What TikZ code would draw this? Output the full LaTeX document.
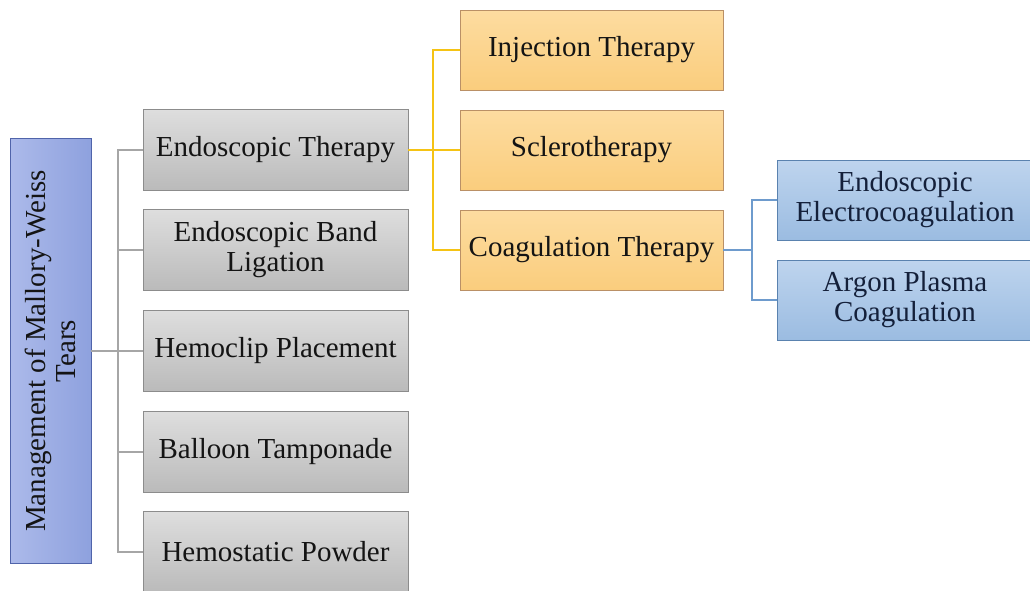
\documentclass[tikz,border=0pt]{standalone}
\usepackage{fontspec}
\setmainfont{Liberation Serif}
\begin{document}
\begin{tikzpicture}[x=1pt,y=-1pt,
  box/.style={draw, line width=0.9pt, inner sep=2pt, align=center,
    font=\fontsize{29}{30}\selectfont, text=black!92},
  graybox/.style={box, draw=black!45, top color=black!13, bottom color=black!27,
    minimum width=265pt, minimum height=81pt},
  orangebox/.style={box, draw=orange!55!black!60, top color={rgb,255:red,253;green,220;blue,160}, bottom color={rgb,255:red,250;green,205;blue,125},
    minimum width=263pt, minimum height=80pt},
  bluebox/.style={box, draw={rgb,255:red,90;green,130;blue,175}, top color={rgb,255:red,190;green,212;blue,238}, bottom color={rgb,255:red,155;green,188;blue,225},
    minimum width=256pt, minimum height=80pt, text={rgb,255:red,20;green,32;blue,58}},
  rootbox/.style={box, draw={rgb,255:red,80;green,100;blue,170}, left color={rgb,255:red,172;green,186;blue,234}, right color={rgb,255:red,142;green,161;blue,222},
    minimum width=425pt, minimum height=81pt, rotate=90},
  gline/.style={draw=black!35, line width=1.6pt},
  yline/.style={draw={rgb,255:red,245;green,195;blue,20}, line width=1.6pt},
  bline/.style={draw={rgb,255:red,110;green,155;blue,205}, line width=1.6pt}
]
\useasboundingbox (0,0) rectangle (1030,590);

\node[rootbox] (root) at (50.5,351) {Management of Mallory-Weiss\\Tears};

\node[graybox] (g1) at (275.5,150) {Endoscopic Therapy};
\node[graybox] (g2) at (275.5,250) {Endoscopic Band\\Ligation};
\node[graybox] (g3) at (275.5,351) {Hemoclip Placement};
\node[graybox] (g4) at (275.5,452) {Balloon Tamponade};
\node[graybox] (g5) at (275.5,552) {Hemostatic Powder};

\node[orangebox] (o1) at (591.5,50) {Injection Therapy};
\node[orangebox] (o2) at (591.5,150) {Sclerotherapy};
\node[orangebox] (o3) at (591.5,250) {Coagulation Therapy};

\node[bluebox] (b1) at (905,200) {Endoscopic\\Electrocoagulation};
\node[bluebox] (b2) at (905,300) {Argon Plasma\\Coagulation};

\coordinate (gj) at (118,351);
\draw[gline] (root.south) -- (gj);
\draw[gline] (gj) |- (g1.west);
\draw[gline] (gj) |- (g2.west);
\draw[gline] (gj) |- (g3.west);
\draw[gline] (gj) |- (g4.west);
\draw[gline] (gj) |- (g5.west);

\coordinate (yj) at (433,150);
\draw[yline] (g1.east) -- (yj);
\draw[yline] (yj) |- (o1.west);
\draw[yline] (yj) |- (o2.west);
\draw[yline] (yj) |- (o3.west);

\coordinate (bj) at (752,250);
\draw[bline] (o3.east) -- (bj);
\draw[bline] (bj) |- (b1.west);
\draw[bline] (bj) |- (b2.west);
\end{tikzpicture}
\end{document}
